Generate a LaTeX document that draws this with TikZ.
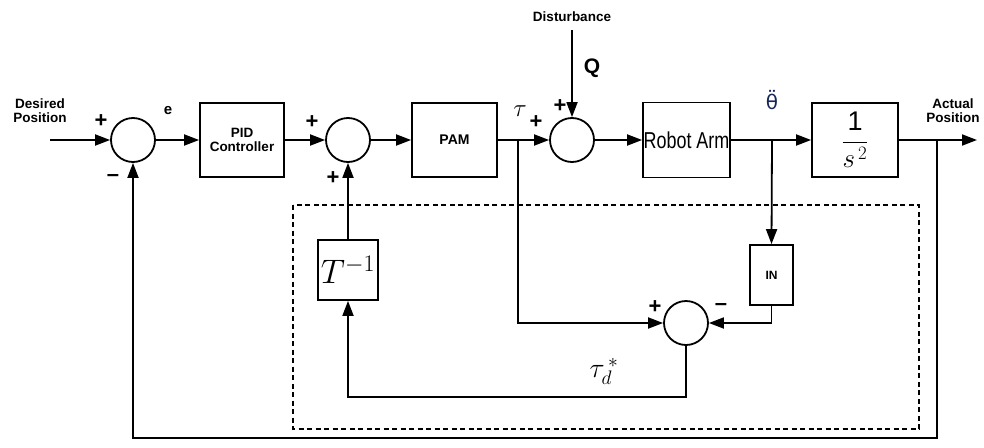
\documentclass[tikz,border=0pt]{standalone}
\usepackage{fontspec}
\usepackage{fix-cm}
\setmainfont{Liberation Sans}
\newfontfamily\narrowfont[FakeStretch=0.78]{Liberation Sans}
\newfontfamily\dvfont{DejaVu Sans}
\usetikzlibrary{arrows.meta}
\definecolor{thetablue}{rgb}{0.1,0.15,0.35}
\begin{document}
\begin{tikzpicture}[x=1pt,y=-1pt,line width=1.8pt,
  arr/.style={-{Triangle[length=15pt,width=11pt]}},
  blk/.style={draw,inner sep=0pt,align=center},
  sumc/.style={draw,circle,minimum size=44pt,inner sep=0pt},
  lbl/.style={font=\fontsize{13.5}{14}\selectfont\bfseries,align=center,inner sep=0pt},
  pm/.style={font=\fontsize{22}{22}\selectfont\bfseries,inner sep=0pt}]
\useasboundingbox (0,0) rectangle (984,447);

% dashed box
\draw[line width=1.3pt,dash pattern=on 5pt off 3.5pt] (293,205) rectangle (919,429);

% blocks
\node[blk,minimum width=84pt,minimum height=74pt,lbl] (pid) at (242,140) {PID\\Controller};
\node[blk,minimum width=85pt,minimum height=74pt,font=\fontsize{14}{14}\selectfont\bfseries] (pam) at (454.5,140) {PAM};
\node[blk,minimum width=87pt,minimum height=75pt,font=\narrowfont\fontsize{23}{23}\selectfont] (ra) at (686.5,140) {Robot Arm};
\node[blk,minimum width=86pt,minimum height=74pt,font=\fontsize{27}{29}\selectfont] (g) at (855,140) {$\displaystyle\frac{\mathrm{1}}{s^{\,2}}$};
\node[blk,minimum width=60pt,minimum height=60pt,font=\fontsize{34}{34}\selectfont] (tinv) at (348,270) {$T^{-1}$};
\node[blk,minimum width=43pt,minimum height=60pt,font=\fontsize{12}{12}\selectfont\bfseries] (in) at (771.5,275) {IN};

% summing junctions
\node[sumc] (s1) at (133,140) {};
\node[sumc] (s2) at (348,140) {};
\node[sumc] (s3) at (572,140) {};
\node[sumc] (s4) at (686,323) {};

% coordinates
\coordinate (inp) at (50,140);
\coordinate (outp) at (977,140);
\coordinate (dist) at (572,30);
\coordinate (b1) at (518,140);
\coordinate (b2) at (772,140);
\coordinate (b3) at (937,140);
\coordinate (bot1) at (133,438);
\coordinate (bot2) at (348,397);

% connectors
\draw[arr] (inp) -- (s1.west);
\draw[arr] (s1.east) -- (pid.west);
\draw[arr] (pid.east) -- (s2.west);
\draw[arr] (s2.east) -- (pam.west);
\draw[arr] (pam.east) -- (s3.west);
\draw[arr] (dist) -- (s3.north);
\draw[arr] (s3.east) -- (ra.west);
\draw[arr] (ra.east) -- (g.west);
\draw[arr] (g.east) -- (outp);
\draw[arr] (b2) -- (in.north);
\draw[arr] (in.south) |- (s4.east);
\draw[arr] (b1) |- (s4.west);
\draw[arr] (s4.south) |- (bot2) -- (tinv.south);
\draw[arr] (tinv.north) -- (s2.south);
\draw[arr] (b3) |- (bot1) -- (s1.south);

% labels
\node[lbl] (lin) at (40,111) {Desired\\Position};
\node[lbl] (lout) at (953,111) {Actual\\Position};
\node[lbl] (ldist) at (572,17) {Disturbance};
\node[font=\fontsize{21}{21}\selectfont\bfseries,inner sep=0pt] (lq) at (592,68) {Q};
\node[font=\fontsize{15}{15}\selectfont\bfseries,inner sep=0pt] (le) at (168,111) {e};
\node[font=\fontsize{25}{25}\selectfont,inner sep=0pt] (ltau) at (520,111) {$\tau$};
\node[font=\dvfont\fontsize{20}{20}\selectfont,text=thetablue,inner sep=0pt] (lth) at (772,100) {\"{θ}};
\node[font=\fontsize{28}{28}\selectfont,inner sep=0pt] (ltd) at (604,371) {$\tau_{d}^{\,*}$};

% signs
\node[pm] (p1) at (101,121) {+};
\node[pm] (m1) at (113,178) {--};
\node[pm] (p2) at (312,122) {+};
\node[pm] (p3) at (333,178) {+};
\node[pm] (p4) at (536,122) {+};
\node[pm] (p5) at (560,106) {+};
\node[pm] (p6) at (655,307) {+};
\node[pm] (m2) at (721,307) {--};
\end{tikzpicture}
\end{document}
